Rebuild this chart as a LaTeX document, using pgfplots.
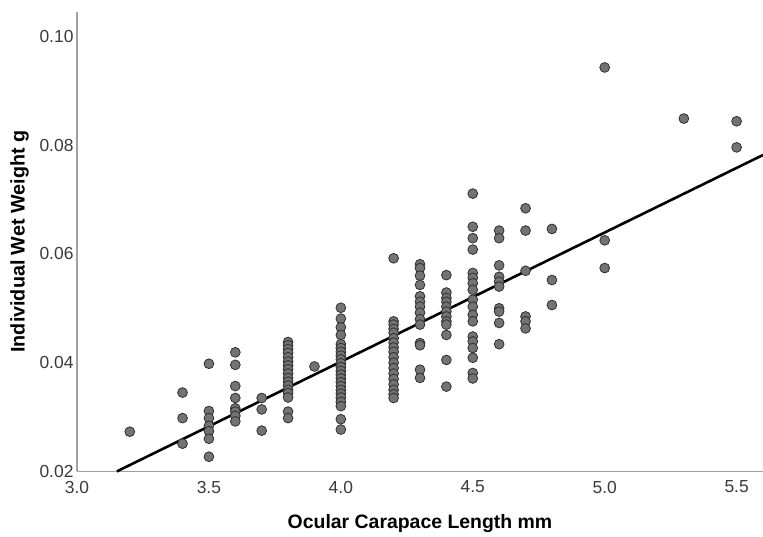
\documentclass[border=0pt]{standalone}
\usepackage{pgfplots}
\pgfplotsset{compat=1.18}
\usepackage{fontspec}
\setmainfont{Liberation Sans}
\definecolor{markfill}{HTML}{737373}
\definecolor{markdraw}{HTML}{303030}
\definecolor{axisgray}{HTML}{A0A0A0}
\definecolor{ticktext}{HTML}{3A3A3A}
\begin{document}
\begin{tikzpicture}
\path[use as bounding box] (0,0) rectangle (763bp,537bp);
\begin{axis}[
  at={(77bp,65.6bp)}, anchor=south west,
  scale only axis, width=686bp, height=459.4bp,
  xmin=3.0, xmax=5.6, ymin=0.02, ymax=0.1045,
  axis x line=bottom, axis y line=left,
  axis line style={-, axisgray, line width=1.2bp},
  major tick length=0pt,
  xtick={3.0,3.5,4.0,4.5,5.0,5.5},
  ytick={0.02,0.04,0.06,0.08,0.10},
  /pgf/number format/assume math mode=true,
  xticklabel style={/pgf/number format/.cd, fixed, fixed zerofill, precision=1, /tikz/.cd, font=\fontsize{17.5}{20}\selectfont, text=ticktext, yshift=-6bp},
  yticklabel style={/pgf/number format/.cd, fixed, fixed zerofill, precision=2, /tikz/.cd, font=\fontsize{17.5}{20}\selectfont, text=ticktext},
  scaled y ticks=false,
  xlabel={Ocular Carapace Length mm},
  ylabel={Individual Wet Weight g},
  xlabel style={at={(axis description cs:0.5,-0.1145)}, anchor=center, font=\fontsize{19.5}{22}\selectfont\bfseries},
  ylabel style={at={(axis description cs:-0.0838,0.5)}, anchor=center, font=\fontsize{19.8}{22}\selectfont\bfseries},
  clip=false,
]
\addplot[only marks, mark=*, mark size=4.9bp, mark options={fill=markfill, draw=markdraw, line width=0.8bp}] coordinates {
(3.2,0.0273)
(3.4,0.0345) (3.4,0.0298) (3.4,0.0251)
(3.5,0.0398) (3.5,0.0311) (3.5,0.0298) (3.5,0.0284) (3.5,0.0274) (3.5,0.0260) (3.5,0.0227)
(3.6,0.0419) (3.6,0.0396) (3.6,0.0357) (3.6,0.0335) (3.6,0.0316) (3.6,0.0310) (3.6,0.0302) (3.6,0.0292)
(3.7,0.0335) (3.7,0.0314) (3.7,0.0275)
(3.8,0.0438) (3.8,0.0432) (3.8,0.0425) (3.8,0.0418) (3.8,0.0410) (3.8,0.0402) (3.8,0.0395) (3.8,0.0388) (3.8,0.0380) (3.8,0.0372) (3.8,0.0365) (3.8,0.0358) (3.8,0.0350) (3.8,0.0344) (3.8,0.0336) (3.8,0.0310) (3.8,0.0298)
(3.9,0.0393)
(4.0,0.0501) (4.0,0.0481) (4.0,0.0465) (4.0,0.0451) (4.0,0.0434) (4.0,0.0427) (4.0,0.0420) (4.0,0.0413) (4.0,0.0406) (4.0,0.0399) (4.0,0.0392) (4.0,0.0385) (4.0,0.0378) (4.0,0.0371) (4.0,0.0364) (4.0,0.0357) (4.0,0.0350) (4.0,0.0343) (4.0,0.0336) (4.0,0.0328) (4.0,0.0320) (4.0,0.0296) (4.0,0.0277)
(4.2,0.0592) (4.2,0.0476) (4.2,0.0470) (4.2,0.0462) (4.2,0.0455) (4.2,0.0445) (4.2,0.0437) (4.2,0.0428) (4.2,0.0420) (4.2,0.0410) (4.2,0.0400) (4.2,0.0390) (4.2,0.0380) (4.2,0.0370) (4.2,0.0360) (4.2,0.0350) (4.2,0.0342) (4.2,0.0335)
(4.3,0.0581) (4.3,0.0574) (4.3,0.0560) (4.3,0.0543) (4.3,0.0522) (4.3,0.0512) (4.3,0.0503) (4.3,0.0492) (4.3,0.0480) (4.3,0.0470) (4.3,0.0436) (4.3,0.0432) (4.3,0.0387) (4.3,0.0372)
(4.4,0.0561) (4.4,0.0529) (4.4,0.0519) (4.4,0.0512) (4.4,0.0503) (4.4,0.0494) (4.4,0.0485) (4.4,0.0476) (4.4,0.0470) (4.4,0.0451) (4.4,0.0405) (4.4,0.0356)
(4.5,0.0711) (4.5,0.0650) (4.5,0.0629) (4.5,0.0608) (4.5,0.0565) (4.5,0.0556) (4.5,0.0546) (4.5,0.0534) (4.5,0.0516) (4.5,0.0503) (4.5,0.0488) (4.5,0.0476) (4.5,0.0448) (4.5,0.0439) (4.5,0.0427) (4.5,0.0409) (4.5,0.0381) (4.5,0.0371)
(4.6,0.0643) (4.6,0.0629) (4.6,0.0579) (4.6,0.0558) (4.6,0.0549) (4.6,0.0540) (4.6,0.0500) (4.6,0.0494) (4.6,0.0473) (4.6,0.0434)
(4.7,0.0684) (4.7,0.0643) (4.7,0.0569) (4.7,0.0485) (4.7,0.0476) (4.7,0.0463)
(4.8,0.0646) (4.8,0.0552) (4.8,0.0506)
(5.0,0.0943) (5.0,0.0625) (5.0,0.0574)
(5.3,0.0849)
(5.5,0.0844) (5.5,0.0796)
};
\addplot[black, line width=2.6bp, no marks] coordinates {(3.151,0.0200) (5.6,0.0782)};
\end{axis}
\end{tikzpicture}
\end{document}
